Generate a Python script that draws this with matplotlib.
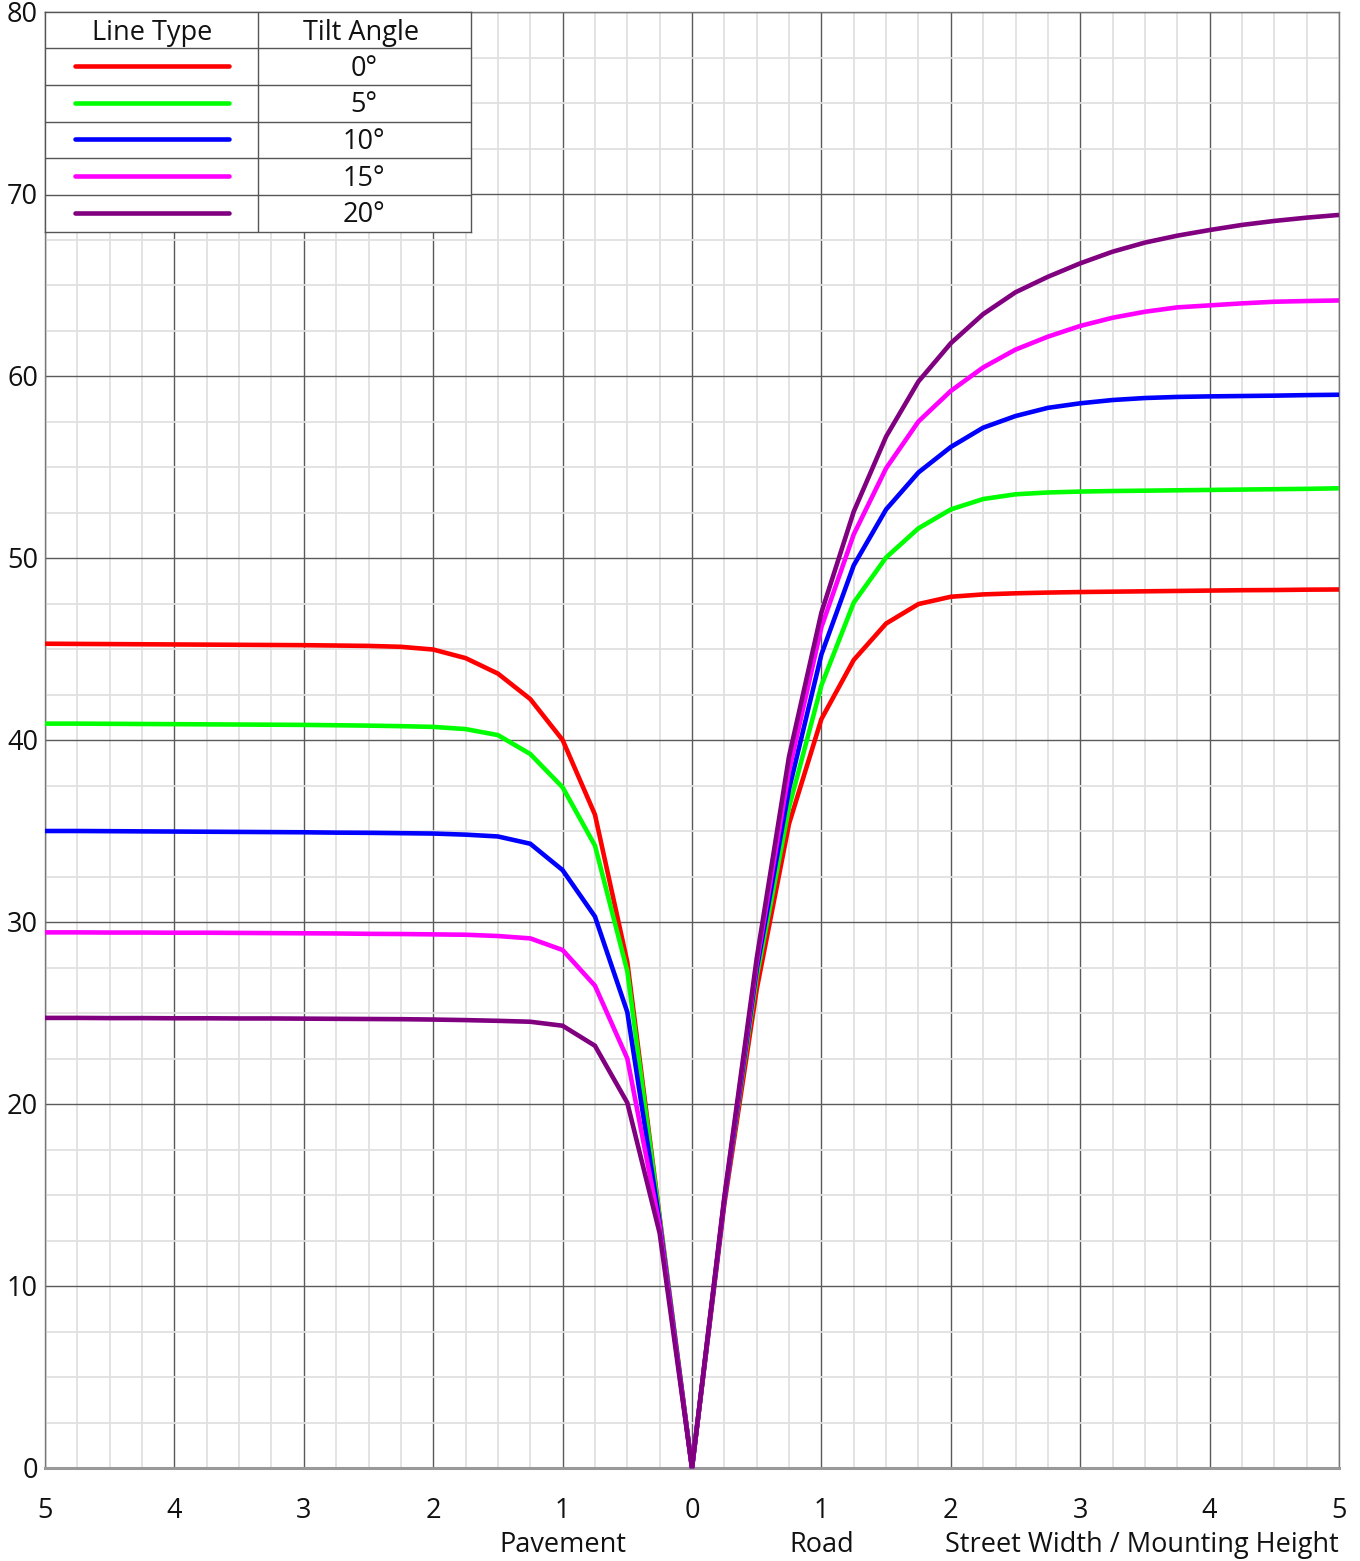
import matplotlib
matplotlib.use("Agg")
import matplotlib.pyplot as plt
from matplotlib.ticker import MultipleLocator, FixedLocator, FuncFormatter
import numpy as np

plt.rcParams['font.family'] = ['Open Sans', 'DejaVu Sans']

# ---- data ----
x_vals = [-5, -4.75, -4.5, -4.25, -4, -3.75, -3.5, -3.25, -3, -2.75, -2.5, -2.25, -2,
          -1.75, -1.5, -1.25, -1, -0.75, -0.5, -0.25, 0,
          0.25, 0.5, 0.75, 1, 1.25, 1.5, 1.75, 2, 2.25, 2.5, 2.75, 3,
          3.25, 3.5, 3.75, 4, 4.25, 4.5, 4.75, 5]

tilt_labels = ["0°", "5°", "10°", "15°", "20°"]
line_colors = ["#ff0000", "#00ff00", "#0000ff", "#ff00ff", "#800080"]

red_0 = [45.29, 45.28, 45.27, 45.26, 45.25, 45.24, 45.23, 45.22, 45.21, 45.19, 45.17, 45.12, 44.97,
         44.5, 43.65, 42.25, 40.0, 35.9, 27.8, 13.8, 0,
         14.5, 26.3, 35.4, 41.15, 44.4, 46.4, 47.47, 47.87, 48.0, 48.06, 48.1, 48.13,
         48.15, 48.17, 48.19, 48.21, 48.23, 48.24, 48.26, 48.27]
green_5 = [40.9, 40.9, 40.89, 40.88, 40.87, 40.86, 40.85, 40.84, 40.83, 40.81, 40.79, 40.76, 40.72,
           40.6, 40.27, 39.23, 37.4, 34.2, 27.3, 13.7, 0,
           14.7, 27.0, 36.3, 43.0, 47.55, 50.03, 51.63, 52.67, 53.24, 53.5, 53.6, 53.65,
           53.68, 53.7, 53.72, 53.74, 53.76, 53.78, 53.8, 53.83]
blue_10 = [35.0, 35.0, 34.99, 34.98, 34.97, 34.96, 34.95, 34.94, 34.93, 34.91, 34.9, 34.88, 34.86,
           34.8, 34.7, 34.3, 32.85, 30.3, 25.05, 13.5, 0,
           14.7, 27.4, 37.3, 44.7, 49.6, 52.67, 54.7, 56.1, 57.16, 57.8, 58.25, 58.5,
           58.68, 58.79, 58.85, 58.88, 58.9, 58.92, 58.95, 58.97]
magenta_15 = [29.43, 29.43, 29.42, 29.42, 29.41, 29.41, 29.4, 29.39, 29.38, 29.37, 29.35, 29.34, 29.32,
              29.3, 29.23, 29.1, 28.46, 26.5, 22.5, 13.3, 0,
              14.8, 27.7, 38.3, 46.2, 51.3, 54.93, 57.5, 59.18, 60.47, 61.45, 62.16, 62.75,
              63.2, 63.53, 63.77, 63.88, 63.99, 64.08, 64.12, 64.15]
purple_20 = [24.73, 24.73, 24.72, 24.72, 24.71, 24.71, 24.7, 24.7, 24.69, 24.68, 24.67, 24.66, 24.64,
             24.61, 24.57, 24.52, 24.3, 23.2, 20.07, 12.9, 0,
             14.9, 28.0, 39.1, 47.0, 52.55, 56.67, 59.7, 61.8, 63.4, 64.6, 65.45, 66.19,
             66.83, 67.33, 67.71, 68.02, 68.3, 68.52, 68.7, 68.85]

series = [red_0, green_5, blue_10, magenta_15, purple_20]

x_ticks = [-5, -4, -3, -2, -1, 0, 1, 2, 3, 4, 5]
y_ticks = [0, 10, 20, 30, 40, 50, 60, 70, 80]

FS = 19.5

# ---- figure ----
W, H = 1360, 1561
fig = plt.figure(figsize=(W / 100, H / 100), dpi=100)
L, R, T, B = 45, 1339, 12, 1468
ax = fig.add_axes([L / W, 1 - B / H, (R - L) / W, (B - T) / H])

ax.set_xlim(-5, 5)
ax.set_ylim(0, 80)

ax.xaxis.set_major_locator(FixedLocator(x_ticks))
ax.yaxis.set_major_locator(FixedLocator(y_ticks))
ax.xaxis.set_minor_locator(MultipleLocator(0.25))
ax.yaxis.set_minor_locator(MultipleLocator(2.5))
ax.xaxis.set_major_formatter(FuncFormatter(lambda v, p: f"{abs(v):g}"))

ax.grid(which='minor', color='#e0e0e0', linewidth=1.3, zorder=0)
ax.grid(which='major', color='#5a5a5a', linewidth=1.0, zorder=1)
ax.set_axisbelow(True)

ax.tick_params(which='both', length=0)
ax.tick_params(axis='x', labelsize=FS, pad=21, colors='#111111')
ax.tick_params(axis='y', labelsize=FS, pad=5, colors='#111111')

for s in ['left', 'right', 'top']:
    ax.spines[s].set_color('#777777')
    ax.spines[s].set_linewidth(1.0)
ax.spines['bottom'].set_color('#999999')
ax.spines['bottom'].set_linewidth(2.2)

for vals, col in zip(series, line_colors):
    ax.plot(x_vals, vals, color=col, linewidth=3.3, solid_joinstyle='miter',
            solid_capstyle='butt', zorder=3, clip_on=False)

# secondary x labels
for txt, xv, ha in [("Pavement", -1, 'center'), ("Road", 1, 'center'),
                    ("Street Width / Mounting Height", 5, 'right')]:
    ax.annotate(txt, xy=(xv, 0), xycoords=('data', 'axes fraction'),
                xytext=(0, -55.5), textcoords='offset points',
                ha=ha, va='center', fontsize=FS, color='#111111')

# ---- legend table ----
LL, LT, LR, LB = 45, 12, 471, 232
lax = fig.add_axes([LL / W, 1 - LB / H, (LR - LL) / W, (LB - LT) / H])
lw_px = LR - LL
lh_px = LB - LT
lax.set_xlim(0, lw_px)
lax.set_ylim(lh_px, 0)
lax.set_facecolor('white')
lax.set_xticks([])
lax.set_yticks([])
for s in lax.spines.values():
    s.set_color('#555555')
    s.set_linewidth(1.0)

row_edges = [0, 36, 73, 110, 146, 183, 220]
col_div = 213
for yb in row_edges[1:-1]:
    lax.axhline(yb, color='#555555', linewidth=1.0)
lax.axvline(col_div, color='#555555', linewidth=1.0)

lax.text(107, 21, "Line Type", ha='center', va='center', fontsize=FS, color='#111111')
lax.text(316, 21, "Tilt Angle", ha='center', va='center', fontsize=FS, color='#111111')
for i, (lab, col) in enumerate(zip(tilt_labels, line_colors)):
    yc = (row_edges[i + 1] + row_edges[i + 2]) / 2
    lax.plot([30, 184], [yc - 1, yc - 1], color=col, linewidth=3.3, solid_capstyle='round')
    lax.text(319, yc + 2, lab, ha='center', va='center', fontsize=FS, color='#111111')

fig.savefig("out.png", dpi=100, facecolor='white')
